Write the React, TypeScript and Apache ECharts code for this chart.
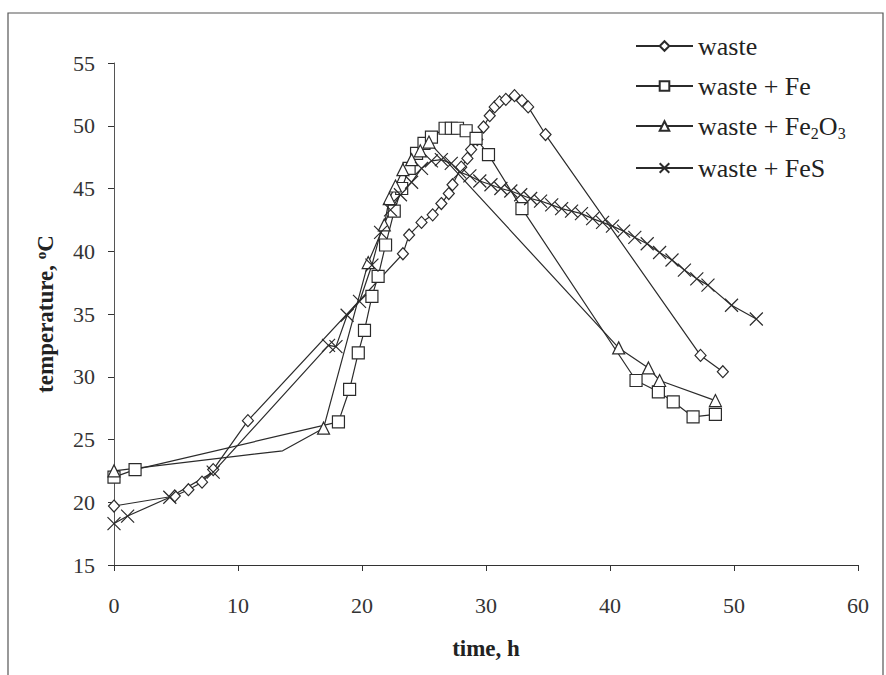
import React, { useEffect, useRef } from "react";
import * as echarts from "echarts";

// ---- data (time in h, temperature in °C) ----
const wasteTime = [0, 4.9, 6.0, 7.1, 8.0, 10.8, 23.3, 23.8, 24.8, 25.7, 26.4, 27.0, 27.3, 28.0, 28.5, 28.8, 29.3, 29.8, 30.3, 30.7, 31.1, 31.6, 32.3, 32.9, 33.4, 34.8, 47.3, 49.1];
const wasteTemp = [19.7, 20.5, 21.0, 21.6, 22.6, 26.5, 39.8, 41.3, 42.3, 42.9, 43.8, 44.6, 45.3, 46.7, 47.4, 48.1, 48.9, 49.9, 50.8, 51.5, 51.9, 52.1, 52.4, 52.0, 51.5, 49.3, 31.7, 30.4];

const feTime = [0, 1.7, 18.1, 19.0, 19.7, 20.2, 20.8, 21.3, 21.9, 22.6, 23.2, 23.8, 24.4, 25.0, 25.6, 26.7, 27.2, 27.7, 28.4, 29.2, 30.2, 32.9, 42.1, 43.9, 45.1, 46.7, 48.5];
const feTemp = [22.0, 22.6, 26.4, 29.0, 31.9, 33.7, 36.4, 38.0, 40.5, 43.2, 45.0, 46.6, 47.8, 48.6, 49.1, 49.8, 49.8, 49.8, 49.6, 49.0, 47.7, 43.4, 29.7, 28.8, 28.0, 26.8, 27.0];

const fe2o3Time = [0, 13.6, 16.9, 20.5, 21.8, 22.2, 22.7, 23.3, 24.0, 24.7, 25.4, 40.7, 43.1, 44.0, 48.5];
const fe2o3Temp = [22.5, 24.1, 25.9, 39.1, 42.1, 44.2, 45.2, 46.5, 47.3, 48.0, 48.7, 32.3, 30.7, 29.7, 28.1];
const fe2o3Hidden = [1]; // index of a vertex drawn without a marker

const fesTime = [0, 1.1, 4.5, 8.0, 17.3, 17.9, 18.8, 19.8, 20.8, 21.5, 22.3, 23.1, 24.0, 24.8, 25.6, 26.4, 27.2, 27.9, 28.7, 29.5, 30.4, 31.2, 32.0, 32.8, 33.6, 34.4, 35.3, 36.1, 36.9, 37.7, 38.6, 39.4, 40.2, 41.1, 42.0, 43.0, 44.0, 45.0, 46.0, 47.0, 47.9, 49.8, 51.8];
const fesTemp = [18.3, 18.9, 20.4, 22.4, 32.5, 32.4, 34.9, 36.0, 38.9, 41.5, 43.3, 44.5, 45.5, 46.6, 47.2, 47.3, 47.0, 46.3, 46.0, 45.6, 45.3, 45.0, 44.8, 44.5, 44.2, 44.0, 43.7, 43.4, 43.2, 43.0, 42.6, 42.3, 42.0, 41.6, 41.1, 40.6, 39.9, 39.3, 38.5, 37.8, 37.3, 35.7, 34.6];

const seriesNames = ["waste", "waste + Fe", "waste + Fe2O3", "waste + FeS"];
const xMin = 0, xMax = 60, xStep = 10;
const yMin = 15, yMax = 55, yStep = 5;

const INK = "#2b2b2b";
const FONT = "'Liberation Serif', 'Times New Roman', serif";

function pairs(t: number[], v: number[], hidden: number[] = []) {
  return t.map((x, i) =>
    hidden.includes(i) ? { value: [x, v[i]], symbol: "none" } : { value: [x, v[i]] }
  );
}

export default function App() {
  const ref = useRef<HTMLDivElement>(null);

  useEffect(() => {
    if (!ref.current) return;
    const chart = echarts.init(ref.current, undefined, { renderer: "svg" });

    const lineStyle = { color: INK, width: 1.2 };
    const hollow = { color: "#ffffff", borderColor: INK, borderWidth: 1.2 };

    const option: any = {
      animation: false,
      backgroundColor: "#ffffff",
      grid: { left: 114, right: 28, top: 63, bottom: 110 },
      graphic: [
        {
          type: "rect",
          shape: { x: 8, y: 13, width: 875, height: 720 },
          style: { fill: "none", stroke: "#555", lineWidth: 1.2 },
          silent: true,
          z: -10,
        },
      ],
      legend: {
        left: 630,
        top: 28,
        orient: "vertical",
        itemWidth: 57,
        itemHeight: 12,
        itemGap: 14,
        data: seriesNames,
        formatter: (n: string) =>
          n === "waste + Fe2O3" ? "{n|waste + Fe}{s|2}{n|O}{s|3}" : "{n|" + n + "}",
        textStyle: {
          color: "#222",
          fontFamily: FONT,
          fontSize: 26,
          rich: {
            n: { fontSize: 26, fontFamily: FONT, color: "#222", lineHeight: 30 },
            s: { fontSize: 16, fontFamily: FONT, color: "#222", lineHeight: 30, verticalAlign: "bottom", padding: [8, 0, 0, 0] },
          },
        },
      },
      xAxis: {
        type: "value",
        min: xMin,
        max: xMax,
        interval: xStep,
        name: "time, h",
        nameLocation: "middle",
        nameGap: 72,
        nameTextStyle: { fontFamily: FONT, fontWeight: "bold", fontSize: 23, color: "#222" },
        axisLine: { show: true, lineStyle: { color: "#333", width: 1.2 } },
        axisTick: { show: true, inside: false, length: 6, lineStyle: { color: "#333" } },
        axisLabel: { margin: 29, fontFamily: FONT, fontSize: 22, color: "#333" },
        splitLine: { show: false },
      },
      yAxis: {
        type: "value",
        min: yMin,
        max: yMax,
        interval: yStep,
        name: "temperature, {sup|o}C",
        nameLocation: "middle",
        nameGap: 57,
        nameRotate: 90,
        nameTextStyle: {
          fontFamily: FONT,
          fontWeight: "bold",
          fontSize: 23,
          color: "#222",
          rich: {
            sup: { fontFamily: FONT, fontWeight: "bold", fontSize: 15, color: "#222", verticalAlign: "top", padding: [0, 0, 9, 0] },
          },
        },
        axisLine: { show: true, lineStyle: { color: "#555", width: 1 } },
        axisTick: { show: true, inside: false, length: 6, lineStyle: { color: "#333" } },
        axisLabel: { margin: 19, fontFamily: FONT, fontSize: 22, color: "#333" },
        splitLine: { show: false },
      },
      series: [
        {
          name: seriesNames[0],
          type: "line",
          data: pairs(wasteTime, wasteTemp),
          symbol: "diamond",
          symbolSize: [11, 12],
          lineStyle,
          itemStyle: hollow,
        },
        {
          name: seriesNames[1],
          type: "line",
          data: pairs(feTime, feTemp),
          symbol: "rect",
          symbolSize: 12,
          lineStyle,
          itemStyle: hollow,
        },
        {
          name: seriesNames[2],
          type: "line",
          data: pairs(fe2o3Time, fe2o3Temp, fe2o3Hidden),
          symbol: "triangle",
          symbolSize: 12,
          lineStyle,
          itemStyle: hollow,
        },
        {
          name: seriesNames[3],
          type: "line",
          data: pairs(fesTime, fesTemp),
          symbol: "path://M0,0L10,10M10,0L0,10",
          symbolSize: 13,
          lineStyle,
          itemStyle: { color: INK, borderColor: INK, borderWidth: 1.2 },
        },
      ],
    };

    chart.setOption(option);
    return () => chart.dispose();
  }, []);

  return (
    <div
      ref={ref}
      style={{ position: "absolute", left: 0, top: 0, width: 886, height: 675, background: "#fff" }}
    />
  );
}
